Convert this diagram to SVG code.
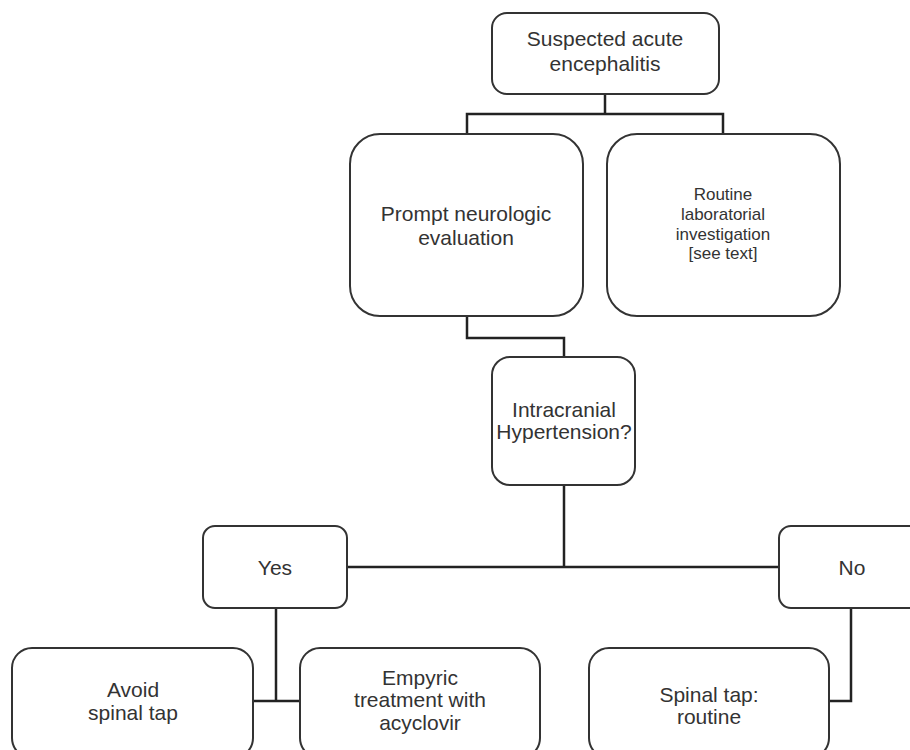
<svg xmlns="http://www.w3.org/2000/svg" width="910" height="750" viewBox="0 0 910 750">
<style>
.box{fill:#fff;stroke:#333;stroke-width:2}
.t{font-family:"Liberation Sans",Arial,sans-serif;fill:#333;text-anchor:middle}
.big{font-size:21px}
.small{font-size:17px}
.conn{fill:none;stroke:#222;stroke-width:2.5}
</style>
<rect width="910" height="750" fill="#fff"/>
<g id="connectors">
<path class="conn" d="M605,94 V114"/>
<path class="conn" d="M467,134 V114 H723 V134"/>
<path class="conn" d="M467,316 V338 H564 V357"/>
<path class="conn" d="M564,485 V567"/>
<path class="conn" d="M347,567 H779"/>
<path class="conn" d="M276,608 V701"/>
<path class="conn" d="M253,701 H300"/>
<path class="conn" d="M851,608 V701 H829"/>
</g>
<g id="n-suspected">
<rect class="box" x="492" y="13" width="227" height="81" rx="15"/>
<text class="t big" x="605" y="46">Suspected acute</text>
<text class="t big" x="605" y="71">encephalitis</text>
</g>
<g id="n-prompt">
<rect class="box" x="350" y="134" width="233" height="182" rx="30"/>
<text class="t big" x="466" y="221">Prompt neurologic</text>
<text class="t big" x="466" y="245">evaluation</text>
</g>
<g id="n-routine">
<rect class="box" x="607" y="134" width="233" height="182" rx="30"/>
<text class="t small" x="723" y="200">Routine</text>
<text class="t small" x="723" y="220">laboratorial</text>
<text class="t small" x="723" y="240">investigation</text>
<text class="t small" x="723" y="259">[see text]</text>
</g>
<g id="n-intracranial">
<rect class="box" x="492" y="357" width="143" height="128" rx="18"/>
<text class="t big" x="564" y="417">Intracranial</text>
<text class="t big" x="564" y="439">Hypertension?</text>
</g>
<g id="n-yes">
<rect class="box" x="203" y="526" width="144" height="82" rx="12"/>
<text class="t big" x="275" y="575">Yes</text>
</g>
<g id="n-no">
<rect class="box" x="779" y="526" width="146" height="82" rx="12"/>
<text class="t big" x="852" y="575">No</text>
</g>
<g id="n-avoid">
<rect class="box" x="12" y="648" width="241" height="110" rx="20"/>
<text class="t big" x="133" y="697">Avoid</text>
<text class="t big" x="133" y="720">spinal tap</text>
</g>
<g id="n-empyric">
<rect class="box" x="300" y="648" width="240" height="110" rx="20"/>
<text class="t big" x="420" y="685">Empyric</text>
<text class="t big" x="420" y="707">treatment with</text>
<text class="t big" x="420" y="730">acyclovir</text>
</g>
<g id="n-spinal">
<rect class="box" x="589" y="648" width="240" height="110" rx="20"/>
<text class="t big" x="709" y="702">Spinal tap:</text>
<text class="t big" x="709" y="724">routine</text>
</g>
</svg>
